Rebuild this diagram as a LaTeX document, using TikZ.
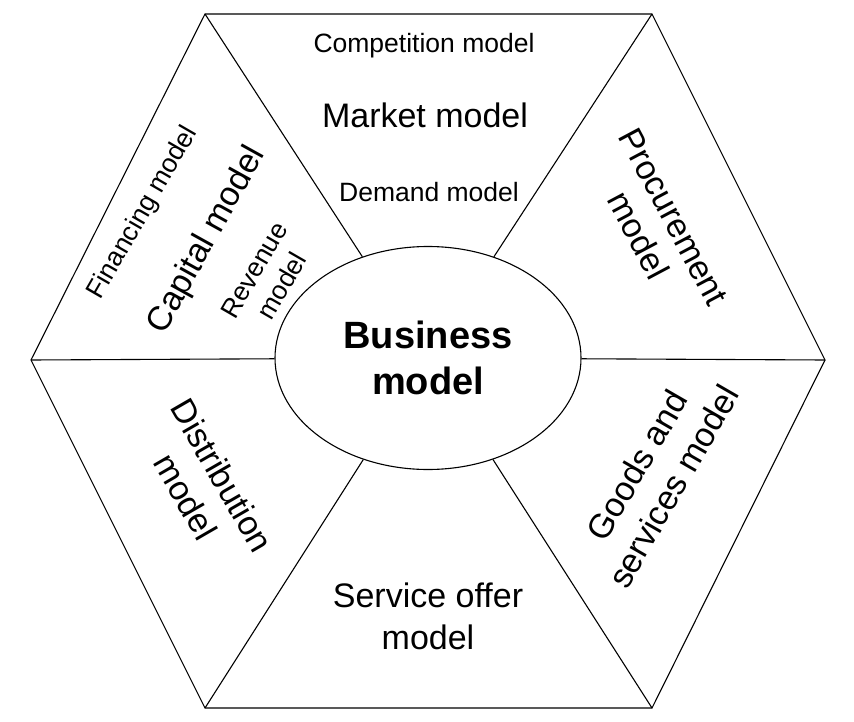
\documentclass[tikz,border=0pt]{standalone}
\usepackage{fontspec}
\setmainfont{Liberation Sans}
\usetikzlibrary{shapes.geometric}

\begin{document}
\begin{tikzpicture}[
    x=1pt, y=-1pt,
    edge/.style={draw, line width=1.1pt},
    big/.style={align=center, inner sep=0pt, font=\fontsize{34}{42}\selectfont},
    small/.style={align=center, inner sep=0pt, font=\fontsize{26.5}{32}\selectfont},
    hub/.style={ellipse, draw, line width=1.1pt, fill=white, minimum width=306pt, minimum height=223pt, inner sep=0pt, align=center, font=\fontsize{38}{46}\selectfont\bfseries}
]
\useasboundingbox (0,0) rectangle (854,722);

% Hexagon corners
\coordinate (TL) at (205,14);
\coordinate (TR) at (652,14);
\coordinate (R) at (825,360);
\coordinate (BR) at (652,708);
\coordinate (BL) at (205,708);
\coordinate (L) at (31,360);
\draw[edge] (TL) -- (TR) -- (R) -- (BR) -- (BL) -- (L) -- cycle;

% Centre
\node[hub] (B) at (428,358) {Business\\model};

% Spokes
\draw[edge] (TL) -- (B);
\draw[edge] (TR) -- (B);
\draw[edge] (R) -- (B);
\draw[edge] (BR) -- (B);
\draw[edge] (BL) -- (B);
\draw[edge] (L) -- (B);

% Top segment
\node[small] (comp) at (424,46) {Competition model};
\node[big] (market) at (425,115) {Market model};
\node[small] (demand) at (429,192) {Demand model};

% Left upper segment
\node[small, rotate=60] (fin) at (143,213) {Financing model};
\node[big, rotate=61] (capital) at (207,240) {Capital model};
\node[small, rotate=60] (revenue) at (268,278) {Revenue\\model};

% Other segments
\node[big, rotate=-62, font=\fontsize{34}{40}\selectfont] (procure) at (656,226) {Procurement\\model};
\node[big, rotate=60] (goods) at (655,476) {Goods and\\services model};
\node[big, rotate=-60] (distrib) at (204,486) {Distribution\\model};
\node[big] (service) at (428,616) {Service offer\\model};

\end{tikzpicture}
\end{document}
